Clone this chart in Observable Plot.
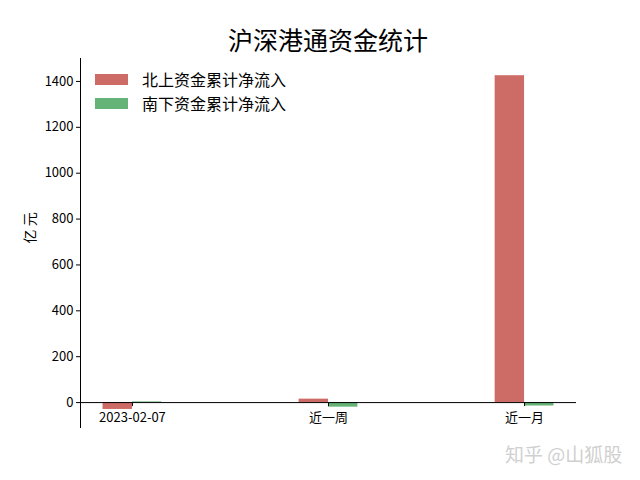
<!DOCTYPE html>
<html><head><meta charset="utf-8">
<script src="https://cdn.jsdelivr.net/npm/d3@7"></script>
<script src="https://cdn.jsdelivr.net/npm/@observablehq/plot@0.6"></script>
<style>
body{margin:0;background:#fff;font-family:"Noto Sans CJK SC",sans-serif;}
#wrap{position:relative;width:640px;height:480px;}
#title{position:absolute;top:23px;left:0;width:656px;text-align:center;font-size:25px;line-height:32px;color:#000;}
#chart{position:absolute;top:50px;left:0;}
#legend{position:absolute;left:95px;top:67px;font-size:16px;color:#000;}
.li{display:flex;align-items:center;height:24px;}
.sw{width:33px;height:11px;margin-right:14px;}
#wm{position:absolute;left:505px;top:440px;font-size:19px;color:#d0d0d0;}
</style></head>
<body><div id="wrap">
<div id="title">沪深港通资金统计</div>
<div id="chart"></div>
<div id="legend"></div>
<div id="wm">知乎 @山狐股</div>
</div>
<script>
const categories = ["2023-02-07", "近一周", "近一月"];
const northbound = [-30, 15, 1425];
const southbound = [3, -20, -15];
const seriesNames = ["北上资金累计净流入", "南下资金累计净流入"];
const seriesColors = ["#cd6b66", "#66b377"];
const yTicks = [0, 200, 400, 600, 800, 1000, 1200, 1400];

const barW = 0.15;
const rows = [];
categories.forEach((c, i) => {
  rows.push({i, s: 0, x1: i - barW, x2: i, v: northbound[i]});
  rows.push({i, s: 1, x1: i, x2: i + barW, v: southbound[i]});
});
const idx = categories.map((c, i) => i);

const chart = Plot.plot({
  width: 640,
  height: 430,
  marginLeft: 80,
  marginRight: 64,
  marginTop: 8,
  marginBottom: 52,
  style: {fontFamily: "Noto Sans CJK SC, sans-serif", fontSize: "13px", color: "#000"},
  x: {domain: [-0.265, 2.265], axis: null},
  y: {domain: [-113, 1500], axis: null},
  marks: [
    Plot.rectY(rows, {x1: "x1", x2: "x2", y1: 0, y2: "v", fill: d => seriesColors[d.s]}),
    Plot.ruleY([0], {stroke: "#000", strokeWidth: 1}),
    Plot.ruleX([-0.265], {stroke: "#000", strokeWidth: 1}),
    Plot.ruleX(idx, {x: d => d, y1: 0, y2: 0, insetBottom: -4, stroke: "#000"}),
    Plot.text(idx, {x: d => d, y: 0, text: d => categories[d], dy: 15, fontSize: 13, fill: "#000"}),
    Plot.ruleY(yTicks, {y: d => d, x1: -0.265, x2: -0.265, insetLeft: -4, stroke: "#000"}),
    Plot.text(yTicks, {y: d => d, x: -0.265, text: d => String(d), dx: -7, textAnchor: "end", fontSize: 13, fill: "#000"}),
    Plot.text(["亿 元"], {frameAnchor: "left", dx: -50, rotate: -90, fontSize: 14, fill: "#000"})
  ]
});
document.getElementById("chart").appendChild(chart);

const leg = document.getElementById("legend");
seriesNames.forEach((n, k) => {
  const d = document.createElement("div");
  d.className = "li";
  d.innerHTML = `<span class="sw" style="background:${seriesColors[k]}"></span><span>${n}</span>`;
  leg.appendChild(d);
});
</script>
</body></html>
